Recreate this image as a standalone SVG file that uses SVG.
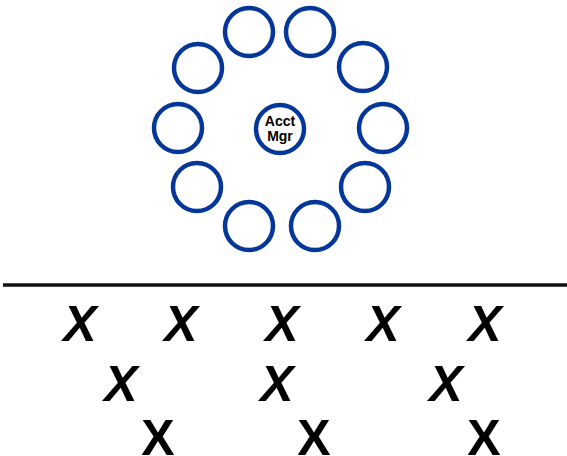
<svg xmlns="http://www.w3.org/2000/svg" width="567" height="456" viewBox="0 0 567 456">
<style>
.c{fill:#fff;stroke:#05379A;stroke-width:4.5}
.t{font-family:"Liberation Sans",Arial,sans-serif;font-weight:bold;fill:#000;text-anchor:middle}
.lbl{font-size:14px}
.x{font-size:50px;font-style:italic}
.xu{font-size:50px}
</style>
<rect width="567" height="456" fill="#fff"/>
<g id="connectors"></g>
<g id="n1"><circle class="c" cx="249" cy="32" r="24"/></g>
<g id="n2"><circle class="c" cx="310" cy="32" r="24"/></g>
<g id="n3"><circle class="c" cx="363" cy="67" r="24"/></g>
<g id="n4"><circle class="c" cx="383" cy="128" r="24"/></g>
<g id="n5"><circle class="c" cx="365" cy="187" r="24"/></g>
<g id="n6"><circle class="c" cx="315" cy="226" r="24"/></g>
<g id="n7"><circle class="c" cx="249" cy="226" r="24"/></g>
<g id="n8"><circle class="c" cx="197" cy="187" r="24"/></g>
<g id="n9"><circle class="c" cx="178" cy="128" r="24"/></g>
<g id="n10"><circle class="c" cx="198" cy="68" r="24"/></g>
<g id="acct-mgr"><circle class="c" cx="280" cy="129" r="24"/>
<text class="t lbl" x="280" y="125.5">Acct</text>
<text class="t lbl" x="280" y="140.5">Mgr</text></g>
<line x1="3" y1="285" x2="567" y2="285" stroke="#111" stroke-width="3.5"/>
<g id="row1">
<text class="t x" x="80" y="341">X</text>
<text class="t x" x="181" y="341">X</text>
<text class="t x" x="282" y="341">X</text>
<text class="t x" x="383" y="341">X</text>
<text class="t x" x="485" y="341">X</text>
</g>
<g id="row2">
<text class="t x" x="121" y="401">X</text>
<text class="t x" x="277" y="401">X</text>
<text class="t x" x="446" y="401">X</text>
</g>
<g id="row3">
<text class="t xu" x="158" y="455">X</text>
<text class="t xu" x="314" y="455">X</text>
<text class="t xu" x="484" y="455">X</text>
</g>
</svg>
